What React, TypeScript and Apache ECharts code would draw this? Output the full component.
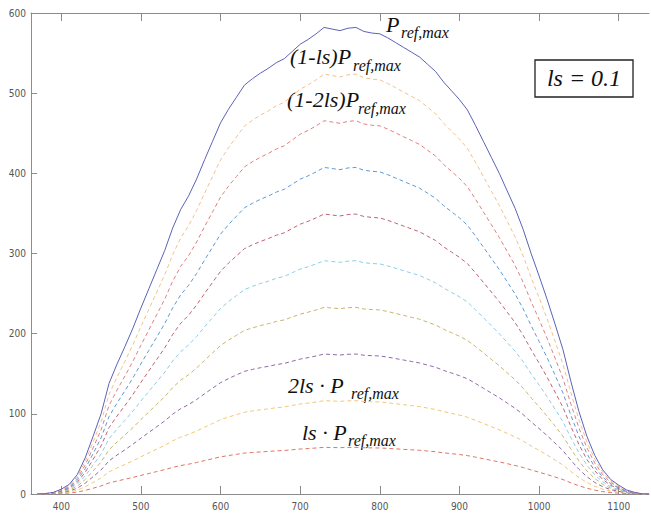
import React, { useEffect, useRef } from "react";
import * as echarts from "echarts";

// Wavelength grid (nm) and the reference maximum power profile
const wavelength = [
  370, 380, 390, 400, 410, 420, 430, 440, 450, 460, 470, 480, 490, 500, 510,
  520, 530, 540, 550, 560, 570, 580, 590, 600, 610, 620, 630, 640, 650, 660,
  670, 680, 690, 700, 710, 720, 730, 740, 750, 760, 770, 780, 790, 800, 810,
  820, 830, 840, 850, 860, 870, 880, 890, 900, 910, 920, 930, 940, 950, 960,
  970, 980, 990, 1000, 1010, 1020, 1030, 1040, 1050, 1060, 1070, 1080, 1090,
  1100, 1110, 1120, 1130, 1138,
];
const pRefMax = [
  0, 0.5, 2, 6, 12, 24, 45, 72, 100, 138, 162, 184, 207, 232, 256, 280, 304,
  332, 355, 372, 393, 417, 440, 463, 480, 495, 510, 518, 525, 531, 538, 543,
  552, 561, 567, 574, 582, 580, 578, 581, 582, 577, 575, 574, 569, 563, 557,
  551, 545, 536, 527, 514, 503, 492, 479, 460, 440, 420, 400, 378, 356, 330,
  300, 272, 243, 212, 180, 140, 103, 72, 48, 30, 18, 11, 5, 2, 0, 0,
];

// Curves drawn: P, (1-ls)P, (1-2ls)P, ... , ls·P with ls = 0.1
const scaleFactors = [1.0, 0.9, 0.8, 0.7, 0.6, 0.5, 0.4, 0.3, 0.2, 0.1];
const seriesColors = [
  "#5b63b6",
  "#f4c08c",
  "#de8080",
  "#6198d4",
  "#bf6272",
  "#8ccde6",
  "#c9b56a",
  "#9068a8",
  "#f3c773",
  "#e07464",
];

const xTicks = [400, 500, 600, 700, 800, 900, 1000, 1100];

const SERIF = "'Liberation Serif', 'Times New Roman', serif";

// Curve annotations: main text, its left edge and baseline, then the subscript
const annotations = [
  { main: "P", x: 386, base: 32, subX: 401, subBase: 38 },
  { main: "(1-ls)P", x: 290, base: 64, subX: 353, subBase: 71 },
  { main: "(1-2ls)P", x: 287, base: 107, subX: 358, subBase: 114 },
  { main: "2ls · P", x: 288, base: 393, subX: 351, subBase: 399 },
  { main: "ls · P", x: 302, base: 440, subX: 348, subBase: 446 },
];
const subscript = "ref,max";

function serifText(text: string, x: number, baseline: number, size: number) {
  return {
    type: "text",
    x,
    y: baseline - 0.3375 * size,
    silent: true,
    style: {
      text,
      fill: "#111",
      fontFamily: SERIF,
      fontStyle: "italic",
      fontSize: size,
      align: "left",
      verticalAlign: "middle",
    },
  };
}

export default function App() {
  const ref = useRef<HTMLDivElement>(null);

  useEffect(() => {
    if (!ref.current) return;
    const chart = echarts.init(ref.current, undefined, { renderer: "svg" });

    const series = scaleFactors.map((k, i) => ({
      type: "line",
      name: String(k),
      data: wavelength.map((w, j) => [w, +(k * pRefMax[j]).toFixed(2)]),
      symbol: "none",
      silent: true,
      z: 20 - i,
      lineStyle: {
        color: seriesColors[i],
        width: 1,
        type: i === 0 ? "solid" : [4, 3],
      },
    }));

    const graphic: any[] = [];
    annotations.forEach((a) => {
      graphic.push(serifText(a.main, a.x, a.base, 22));
      graphic.push(serifText(subscript, a.subX, a.subBase, 16));
    });
    graphic.push({
      type: "rect",
      silent: true,
      shape: { x: 535, y: 60, width: 98, height: 37 },
      style: { fill: "#fff", stroke: "#222", lineWidth: 1.3 },
    });
    graphic.push({
      type: "text",
      x: 584,
      y: 78,
      silent: true,
      style: {
        text: "ls = 0.1",
        fill: "#111",
        fontFamily: SERIF,
        fontStyle: "italic",
        fontSize: 24,
        align: "center",
        verticalAlign: "middle",
      },
    });

    const axisLineStyle = { color: "#8c8c8c", width: 1 };
    const tickLabel = {
      color: "#555",
      fontSize: 10,
      fontFamily: "'DejaVu Sans Condensed', 'Liberation Sans Narrow', sans-serif",
      formatter: (v: number) => String(v),
    };

    chart.setOption({
      animation: false,
      backgroundColor: "#fff",
      grid: {
        left: 31,
        right: 2,
        top: 13,
        bottom: 22,
        containLabel: false,
        outerBoundsMode: "none",
      },
      xAxis: [
        {
          type: "value",
          position: "bottom",
          min: 362,
          max: 1138,
          axisLine: { show: true, lineStyle: axisLineStyle },
          axisTick: {
            show: true,
            inside: true,
            length: 8,
            customValues: xTicks,
            lineStyle: axisLineStyle,
          },
          axisLabel: { ...tickLabel, margin: 7, customValues: xTicks },
          splitLine: { show: false },
        },
        {
          type: "value",
          position: "top",
          min: 362,
          max: 1138,
          axisLine: { show: true, lineStyle: axisLineStyle },
          axisTick: {
            show: true,
            inside: true,
            length: 8,
            customValues: xTicks,
            lineStyle: axisLineStyle,
          },
          axisLabel: { show: false },
          splitLine: { show: false },
        },
      ],
      yAxis: {
        type: "value",
        min: 0,
        max: 600,
        interval: 100,
        axisLine: { show: true, lineStyle: axisLineStyle },
        axisTick: { show: true, inside: true, length: 6, lineStyle: axisLineStyle },
        axisLabel: { ...tickLabel, margin: 5 },
        splitLine: { show: false },
      },
      series,
      graphic,
    });

    return () => chart.dispose();
  }, []);

  return (
    <div
      ref={ref}
      style={{ position: "fixed", left: 0, top: 0, width: 651, height: 516 }}
    />
  );
}
